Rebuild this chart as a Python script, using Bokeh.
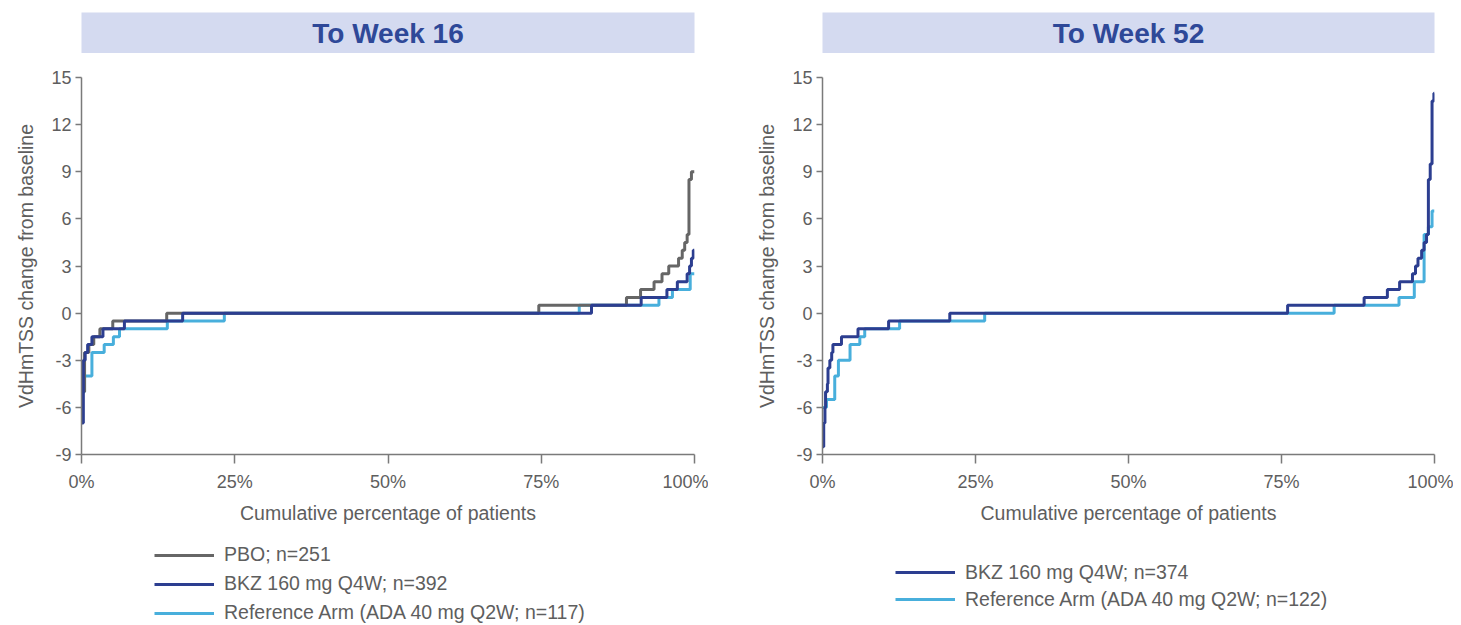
from bokeh.plotting import figure
from bokeh.models import Range1d, FixedTicker, Legend, LegendItem
from bokeh.layouts import row, column
from bokeh.embed import file_html
from bokeh.resources import INLINE
from bokeh.core.properties import value

FONT = "Liberation Sans"
TEXT_GRAY = "#5e5e5e"
AXIS_GRAY = "#7a7a7a"
C_PBO = "#666666"
C_BKZ = "#2c3e90"
C_REF = "#48afdc"
TITLE_BG = "#d4daf0"
TITLE_FG = "#2e4898"

titles = ["To Week 16", "To Week 52"]
x_label = "Cumulative percentage of patients"
y_label = "VdHmTSS change from baseline"
x_ticks = [0, 25, 50, 75, 100]
x_tick_labels = ["0%", "25%", "50%", "75%", "100%"]
y_ticks = [-9, -6, -3, 0, 3, 6, 9, 12, 15]
y_tick_labels = ["-9", "-6", "-3", "0", "3", "6", "9", "12", "15"]

# ---- To Week 16 (step "after" points: cumulative %, change) ----
w16_pbo_name = "PBO; n=251"
w16_pbo_x = [0, 0.5, 1.2, 2.0, 3.0, 5.1, 13.9, 74.6, 88.9, 91.2, 93.4, 94.7, 95.8, 97.4, 98.0, 98.4, 98.8, 99.1, 99.5, 100]
w16_pbo_y = [-5, -2.5, -2, -1.5, -1, -0.5, 0, 0.5, 1.0, 1.5, 2.0, 2.5, 3.0, 3.5, 4.0, 4.5, 5.0, 8.5, 9.0, 9.0]

w16_bkz_name = "BKZ 160 mg Q4W; n=392"
w16_bkz_x = [0, 0.3, 0.6, 1.0, 1.7, 3.5, 7.0, 16.5, 83.2, 91.3, 95.5, 97.2, 98.8, 99.2, 99.5, 99.8, 100]
w16_bkz_y = [-7, -3, -2.5, -2, -1.5, -1, -0.5, 0, 0.5, 1.0, 1.5, 2.0, 2.5, 3.0, 3.5, 4.0, 4.0]

w16_ref_name = "Reference Arm (ADA 40 mg Q2W; n=117)"
w16_ref_x = [0, 0.5, 1.7, 3.7, 5.2, 6.2, 14.0, 23.3, 81.2, 94.2, 96.4, 99.3, 100]
w16_ref_y = [-5, -4, -2.5, -2, -1.5, -1, -0.5, 0, 0.5, 1.0, 1.5, 2.5, 2.5]

# ---- To Week 52 ----
w52_bkz_name = "BKZ 160 mg Q4W; n=374"
w52_bkz_x = [0, 0.2, 0.4, 0.5, 0.8, 0.9, 1.2, 1.5, 1.7, 3.1, 5.8, 10.8, 20.8, 76.0, 88.5, 92.3, 94.3, 96.4, 96.9, 97.3, 97.9, 98.3, 98.7, 99.0, 99.3, 99.6, 99.9, 100]
w52_bkz_y = [-8.5, -7, -6, -5, -4.5, -3.5, -3, -2.5, -2, -1.5, -1, -0.5, 0, 0.5, 1.0, 1.5, 2.0, 2.5, 3.0, 3.5, 4.0, 4.5, 5.0, 8.5, 9.5, 13.5, 14.0, 14.0]

w52_ref_name = "Reference Arm (ADA 40 mg Q2W; n=122)"
w52_ref_x = [0, 0.65, 2.0, 2.6, 4.5, 6.1, 6.9, 12.6, 26.5, 83.6, 94.2, 96.7, 98.3, 99.0, 99.6, 100]
w52_ref_y = [-6, -5.5, -4, -3, -2, -1.5, -1, -0.5, 0, 0.5, 1.0, 2.0, 5.0, 5.5, 6.5, 6.5]


def bare_fig(width, height, left, right, top, bottom):
    f = figure(width=width, height=height, x_range=Range1d(0, 1), y_range=Range1d(0, 1),
               toolbar_location=None, output_backend="svg",
               x_axis_location=None, y_axis_location=None,
               min_border_left=left, min_border_right=right,
               min_border_top=top, min_border_bottom=bottom)
    f.grid.visible = False
    f.outline_line_color = None
    f.border_fill_color = "white"
    return f


def title_fig(text, width, left, right):
    t = bare_fig(width, 53, left, right, 12, 0)
    t.background_fill_color = TITLE_BG
    t.text(x=[0.5], y=[0.5], text=[text], text_align="center", text_baseline="middle",
           text_font=value(FONT), text_font_style="bold", text_font_size="28px",
           text_color=TITLE_FG)
    return t


def main_fig(width, left, right):
    p = figure(width=width, height=473, x_range=Range1d(0, 100), y_range=Range1d(-9, 15),
               toolbar_location=None, output_backend="svg",
               min_border_left=left, min_border_right=right,
               min_border_top=24, min_border_bottom=70)
    p.grid.visible = False
    p.outline_line_color = None
    p.background_fill_color = "white"
    p.border_fill_color = "white"
    p.xaxis.ticker = FixedTicker(ticks=x_ticks)
    p.xaxis.major_label_overrides = {t: l for t, l in zip(x_ticks, x_tick_labels)}
    p.yaxis.ticker = FixedTicker(ticks=y_ticks)
    p.yaxis.major_label_overrides = {t: l for t, l in zip(y_ticks, y_tick_labels)}
    p.xaxis.axis_label = x_label
    p.yaxis.axis_label = y_label
    for ax in (p.xaxis[0], p.yaxis[0]):
        ax.axis_line_color = AXIS_GRAY
        ax.axis_line_width = 1.5
        ax.major_tick_line_color = AXIS_GRAY
        ax.major_tick_line_width = 1.5
        ax.major_tick_in = 0
        ax.minor_tick_line_color = None
        ax.major_label_text_font = FONT
        ax.major_label_text_font_size = "18px"
        ax.major_label_text_color = TEXT_GRAY
        ax.axis_label_text_font = FONT
        ax.axis_label_text_font_size = "19.5px"
        ax.axis_label_text_font_style = "normal"
        ax.axis_label_text_color = TEXT_GRAY
    p.xaxis.major_tick_out = 9
    p.xaxis.major_label_standoff = 8
    p.xaxis.axis_label_standoff = 7
    p.yaxis.major_tick_out = 6
    p.yaxis.major_label_standoff = 4
    p.yaxis.axis_label_standoff = 11
    return p


def legend_fig(width, series, loc, row_h, spacing):
    f = bare_fig(width, 98, 0, 0, 0, 0)
    f.background_fill_color = "white"
    items = []
    for name, xs, ys, color in series:
        r = f.step(xs, ys, mode="after", line_color=color, line_width=3, visible=False)
        items.append(LegendItem(label=name, renderers=[r]))
    lg = Legend(items=items, location=loc, orientation="vertical")
    lg.label_text_font = FONT
    lg.label_text_font_size = "19.5px"
    lg.label_text_color = TEXT_GRAY
    lg.glyph_width = 60
    lg.glyph_height = row_h
    lg.label_height = row_h
    lg.label_standoff = 10
    lg.spacing = spacing
    lg.padding = 0
    lg.margin = 0
    lg.border_line_color = None
    lg.background_fill_alpha = 0
    lg.click_policy = "none"
    f.add_layout(lg, "center")
    return f


# ---- left panel ----
t1 = title_fig(titles[0], 708, 81, 14)
p1 = main_fig(708, 80, 14)
p1.step(w16_ref_x, w16_ref_y, mode="after", line_color=C_REF, line_width=3)
p1.step(w16_pbo_x, w16_pbo_y, mode="after", line_color=C_PBO, line_width=3)
p1.step(w16_bkz_x, w16_bkz_y, mode="after", line_color=C_BKZ, line_width=3)
l1 = legend_fig(708, [(w16_pbo_name, w16_pbo_x, w16_pbo_y, C_PBO),
                      (w16_bkz_name, w16_bkz_x, w16_bkz_y, C_BKZ),
                      (w16_ref_name, w16_ref_x, w16_ref_y, C_REF)], (73, 0), 22, 6)

# ---- right panel ----
t2 = title_fig(titles[1], 745, 114, 18)
p2 = main_fig(745, 113, 19)
p2.step(w52_ref_x, w52_ref_y, mode="after", line_color=C_REF, line_width=3)
p2.step(w52_bkz_x, w52_bkz_y, mode="after", line_color=C_BKZ, line_width=3)
l2 = legend_fig(745, [(w52_bkz_name, w52_bkz_x, w52_bkz_y, C_BKZ),
                      (w52_ref_name, w52_ref_x, w52_ref_y, C_REF)], (73, 13), 24, 3)

layout = row(column(t1, p1, l1), column(t2, p2, l2))
open("out.html", "w").write(file_html(layout, INLINE))
